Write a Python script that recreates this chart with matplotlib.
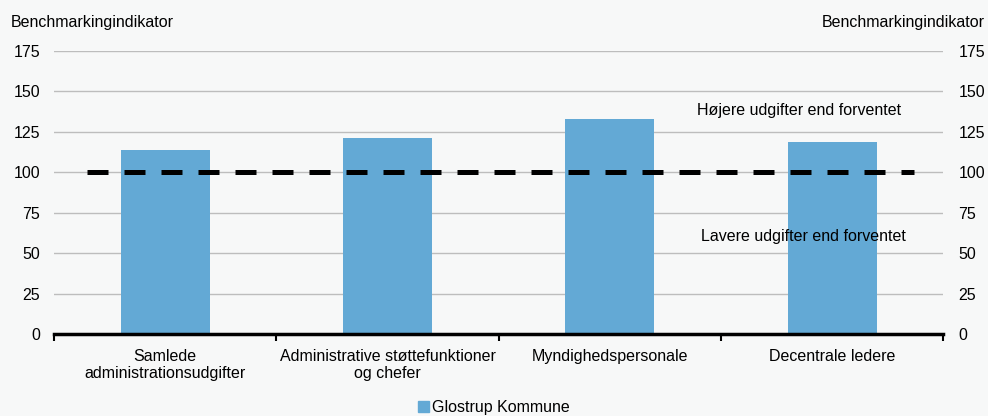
import matplotlib
matplotlib.use("Agg")
import matplotlib.pyplot as plt
from matplotlib.patches import Patch

categories = ["Samlede\nadministrationsudgifter", "Administrative støttefunktioner\nog chefer",
              "Myndighedspersonale", "Decentrale ledere"]
values = [114, 121, 133, 119]
reference = [100, 100]
ref_x = [-0.35, 3.37]
yticks = [0, 25, 50, 75, 100, 125, 150, 175]

plt.rcParams['font.family'] = ['Liberation Sans', 'DejaVu Sans']
bg = '#f7f8f8'
bar_color = '#63a9d5'
fs = 11.5

fig = plt.figure(figsize=(9.88, 4.16), dpi=100, facecolor=bg)
ax = fig.add_axes([0.0547, 0.197, 0.9, 0.6804], facecolor=bg)
x = range(len(categories))
ax.bar(x, values, width=0.4, color=bar_color, zorder=2)
ax.plot(ref_x, reference, color='black', lw=3.6, dashes=(4.2, 3.2), zorder=3)
ax.set_xlim(-0.5, 3.5)
ax.set_ylim(0, 175)
ax.set_yticks(yticks)
ax.grid(axis='y', color='#bdbdbd', lw=1, zorder=0)
for s in ['top', 'right', 'left']:
    ax.spines[s].set_visible(False)
ax.spines['bottom'].set_linewidth(2.5)
ax.spines['bottom'].set_zorder(4)
ax.set_xticks([-0.5, 0.5, 1.5, 2.5, 3.5])
ax.set_xticklabels([])
ax.set_xticks(list(x), minor=True)
ax.set_xticklabels(categories, minor=True, fontsize=fs, linespacing=1.15)
ax.tick_params(axis='x', which='major', length=5, width=1.5, color='black')
ax.tick_params(axis='x', which='minor', length=0, pad=11)
ax.tick_params(axis='y', length=0, labelsize=fs, pad=10)
ax2 = ax.twinx()
ax2.set_ylim(0, 175)
ax2.set_yticks(yticks)
ax2.tick_params(axis='y', length=0, labelsize=fs, pad=11)
for s in ['top', 'right', 'left', 'bottom']:
    ax2.spines[s].set_visible(False)

fig.text(0.011, 0.945, "Benchmarkingindikator", fontsize=fs, ha='left', va='center')
fig.text(0.997, 0.945, "Benchmarkingindikator", fontsize=fs, ha='right', va='center')
ax.text(2.85, 138.5, "Højere udgifter end forventet", fontsize=fs, ha='center', va='center')
ax.text(2.87, 60.6, "Lavere udgifter end forventet", fontsize=fs, ha='center', va='center')

fig.legend(handles=[Patch(color=bar_color, label="Glostrup Kommune")], loc='center',
           bbox_to_anchor=(0.5, 0.02), frameon=False, fontsize=fs, handlelength=0.7,
           handleheight=0.7, handletextpad=0.2)
fig.savefig("out.png", dpi=100, facecolor=bg)
